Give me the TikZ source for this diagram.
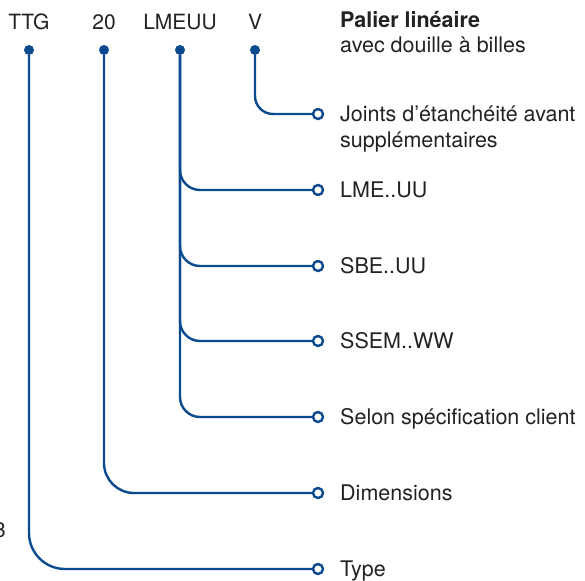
\documentclass[tikz,border=0pt]{standalone}
\usepackage{fontspec}
\setmainfont{TeX Gyre Heros}
\usetikzlibrary{positioning}
\definecolor{codeblue}{HTML}{0B4A8F}
\definecolor{textgray}{HTML}{222222}

\begin{document}
\begin{tikzpicture}[
    x=1pt, y=-1pt,
    code/.style={font=\fontsize{21}{25}\selectfont, color=textgray, inner sep=0pt, anchor=base},
    desc/.style={font=\fontsize{21.5}{26}\selectfont, color=textgray, inner sep=0pt, align=left, anchor=base west},
    dot/.style={circle, fill=codeblue, inner sep=0pt, minimum size=10pt},
    ring/.style={circle, draw=codeblue, line width=2.4pt, fill=white, inner sep=0pt, minimum size=10pt},
    link/.style={line width=2.4pt, color=codeblue},
]
\useasboundingbox (0,0) rectangle (585,580);
\clip (0,0) rectangle (585,580);

% Code segments
\node[code] (ttg) at (29,30) {TTG};
\node[code] (size) at (104,30) {20};
\node[code] (series) at (180,30) {LMEUU};
\node[code] (seal) at (255,30) {V};

\node[dot] (ttg-dot) at (29,50) {};
\node[dot] (size-dot) at (104,50) {};
\node[dot] (series-dot) at (180,50) {};
\node[dot] (seal-dot) at (255,50) {};

% Title (base = last line)
\node[desc, font=\fontsize{21.5}{25}\selectfont] (title) at (340,53) {\textbf{Palier linéaire}\\avec douille à billes};

% Stray digit at the left edge
\node[code, anchor=base east] (cut) at (6,537) {3};

% End rings
\node[ring] (r-seal) at (318,114) {};
\node[ring] (r-lme) at (318,190) {};
\node[ring] (r-sbe) at (318,266) {};
\node[ring] (r-ssem) at (318,341) {};
\node[ring] (r-client) at (318,417) {};
\node[ring] (r-dim) at (318,493) {};
\node[ring] (r-type) at (318,569) {};

% Descriptions
\node[desc] (d-seal) at (340,147.5) {Joints d’étanchéité avant\\supplémentaires};
\node[desc] (d-lme) at (340,197.5) {LME..UU};
\node[desc] (d-sbe) at (340,273.5) {SBE..UU};
\node[desc] (d-ssem) at (340,348.5) {SSEM..WW};
\node[desc] (d-client) at (340,424.5) {Selon spécification client};
\node[desc] (d-dim) at (340,500.5) {Dimensions};
\node[desc] (d-type) at (340,576.5) {Type};

% Connectors
\draw[link, rounded corners=18pt] (seal-dot) |- (r-seal);
\draw[link, rounded corners=20pt] (series-dot) |- (r-lme);
\draw[link, rounded corners=20pt] (series-dot) |- (r-sbe);
\draw[link, rounded corners=20pt] (series-dot) |- (r-ssem);
\draw[link, rounded corners=20pt] (series-dot) |- (r-client);
\draw[link, rounded corners=30pt] (size-dot) |- (r-dim);
\draw[link, rounded corners=36pt] (ttg-dot) |- (r-type);

\end{tikzpicture}
\end{document}
